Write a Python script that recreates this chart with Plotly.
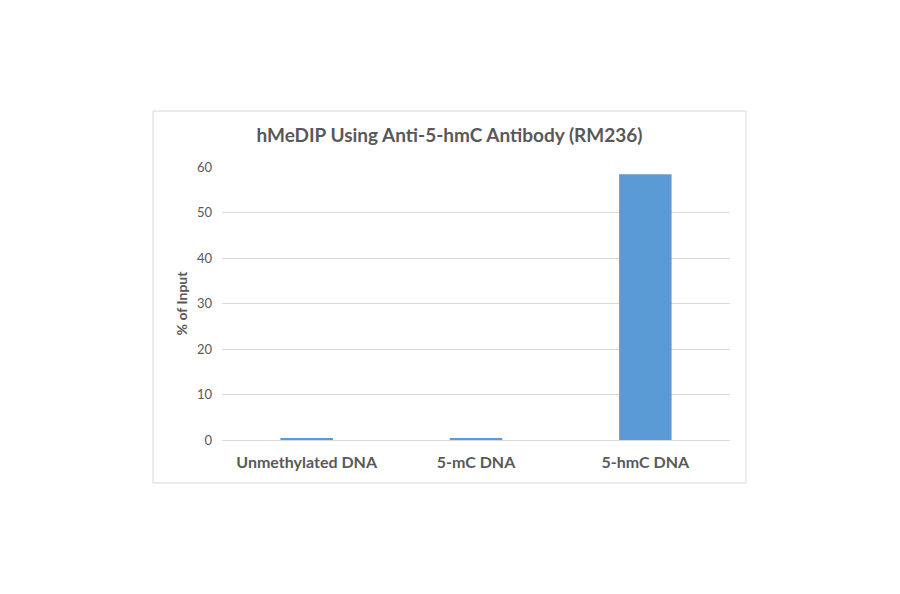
import plotly.graph_objs as go

categories = ["Unmethylated DNA", "5-mC DNA", "5-hmC DNA"]
percent_input = [0.25, 0.25, 58.4]
y_ticks = [0, 10, 20, 30, 40, 50, 60]

font_name = "Lato"
grey_text = "#595959"

fig = go.Figure(go.Bar(x=categories, y=percent_input, marker=dict(color="#5b9bd5", line=dict(width=0)),
                       width=0.31))

# page body adds ~8px offset, so margins are shifted up/left
fig.update_layout(
    width=900, height=594,
    margin=dict(l=214, r=178, t=159, b=162),
    paper_bgcolor="white", plot_bgcolor="white",
    font=dict(family=font_name, color=grey_text),
    showlegend=False,
    title=dict(text="<b>hMeDIP Using Anti-5-hmC Antibody (RM236)</b>", x=441.5 / 900, xanchor="center",
               y=1 - 127 / 594, yanchor="middle", font=dict(size=19, color=grey_text)),
)

fig.update_xaxes(showgrid=False, showline=False, ticks="", tickfont=dict(size=16, color=grey_text),
                 tickprefix="<b>", ticksuffix="</b>", ticklabelstandoff=11)
fig.update_yaxes(range=[0, 60], tickvals=y_ticks, showgrid=True, gridcolor="#d9d9d9", gridwidth=1,
                 zeroline=True, zerolinecolor="#d9d9d9", zerolinewidth=1, showline=False,
                 tickfont=dict(size=13, color=grey_text), ticklabelstandoff=9,
                 title=dict(text="<b>% of Input</b>", font=dict(size=14, color=grey_text), standoff=6))

# outer chart border
fig.add_shape(type="rect", xref="paper", yref="paper", x0=-0.1358, x1=1.0315, y0=-0.1575, y1=1.205,
              line=dict(color="#d9d9d9", width=1), layer="below")

fig.write_html("out.html")
